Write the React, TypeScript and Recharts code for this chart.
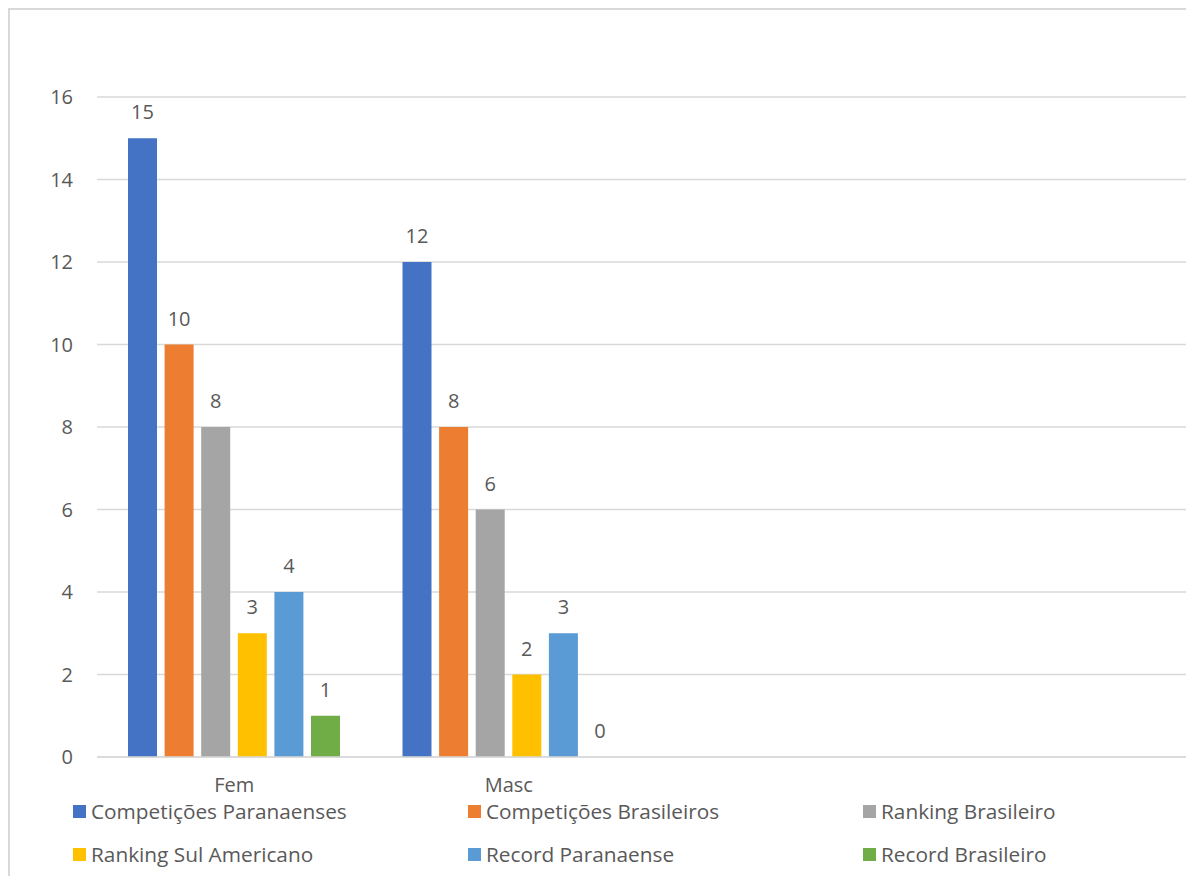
import { Bar, BarChart, CartesianGrid, Legend, XAxis, YAxis } from "recharts";

const categories = ["Fem", "Masc", " ", "  "];
const seriesNames = [
  "Competições Paranaenses",
  "Competições Brasileiros",
  "Ranking Brasileiro",
  "Ranking Sul Americano",
  "Record Paranaense",
  "Record Brasileiro",
];
const seriesColors = ["#4472C4", "#ED7D31", "#A5A5A5", "#FFC000", "#5B9BD5", "#70AD47"];
const competicoesParanaenses = [15, 12, null, null];
const competicoesBrasileiros = [10, 8, null, null];
const rankingBrasileiro = [8, 6, null, null];
const rankingSulAmericano = [3, 2, null, null];
const recordParanaense = [4, 3, null, null];
const recordBrasileiro = [1, 0, null, null];
const yTicks = [0, 2, 4, 6, 8, 10, 12, 14, 16];

const seriesValues = [
  competicoesParanaenses,
  competicoesBrasileiros,
  rankingBrasileiro,
  rankingSulAmericano,
  recordParanaense,
  recordBrasileiro,
];

const data = categories.map((name, i) => {
  const row: Record<string, string | number | null> = { name };
  seriesValues.forEach((vals, s) => {
    row[`s${s}`] = vals[i];
  });
  return row;
});

const textColor = "#595959";

function LegendGrid() {
  return (
    <div style={{ position: "relative", width: 1200, height: 80 }}>
      {seriesNames.map((name, i) => (
        <div
          key={name}
          style={{
            position: "absolute",
            left: 63 + (i % 3) * 395,
            top: Math.floor(i / 3) * 43,
            display: "flex",
            alignItems: "center",
            height: 26,
            fontSize: 20.8,
            color: textColor,
            whiteSpace: "nowrap",
          }}
        >
          <span
            style={{
              display: "inline-block",
              width: 13,
              height: 13,
              background: seriesColors[i],
              marginRight: 5,
            }}
          />
          <span>{name}</span>
        </div>
      ))}
    </div>
  );
}

// bar plus its value label; drawn through the shape so zero-height bars still get a label
function BarWithLabel(props: any) {
  const { x, y, width, height, fill, value } = props;
  const v = Array.isArray(value) ? value[1] - value[0] : value;
  if (v === null || v === undefined || Number.isNaN(v)) return null;
  const cx = Number(x) + Number(width) / 2;
  return (
    <g>
      {Number(height) > 0 && <rect x={x} y={y} width={width} height={height} fill={fill} />}
      <text x={cx} y={Number(y) - 19} textAnchor="middle" fill={textColor} fontSize={20}>
        {v}
      </text>
    </g>
  );
}

export default function App() {
  return (
    <div
      style={{
        position: "absolute",
        left: 8,
        top: 8,
        width: 1178,
        height: 868,
        overflow: "hidden",
        fontFamily: "'Open Sans', sans-serif",
      }}
    >
      <div style={{ border: "2px solid #d9d9d9", width: 1200, height: 900, boxSizing: "content-box" }}>
        <BarChart
          width={1200}
          height={900}
          data={data}
          margin={{ top: 87, right: 15, bottom: 113, left: 1 }}
          barGap={7.6}
        >
          <CartesianGrid vertical={false} stroke="#d9d9d9" strokeWidth={1.5} />
          <XAxis
            dataKey="name"
            axisLine={{ stroke: "#d9d9d9", strokeWidth: 1.5 }}
            tickLine={false}
            tickSize={0}
            tickMargin={21}
            height={40}
            tick={{ fill: textColor, fontSize: 20 }}
          />
          <YAxis
            domain={[0, 16]}
            ticks={yTicks}
            axisLine={false}
            tickLine={false}
            tickSize={0}
            tickMargin={24}
            width={86}
            tick={{ fill: textColor, fontSize: 20 }}
          />
          <Legend
            layout="horizontal"
            verticalAlign="middle"
            align="center"
            wrapperStyle={{ top: 788, left: 0, width: 1200 }}
            content={() => <LegendGrid />}
          />
          {seriesNames.map((name, s) => (
            <Bar
              key={name}
              dataKey={`s${s}`}
              name={name}
              fill={seriesColors[s]}
              barSize={29}
              isAnimationActive={false}
              shape={BarWithLabel}
            />
          ))}
        </BarChart>
      </div>
    </div>
  );
}
